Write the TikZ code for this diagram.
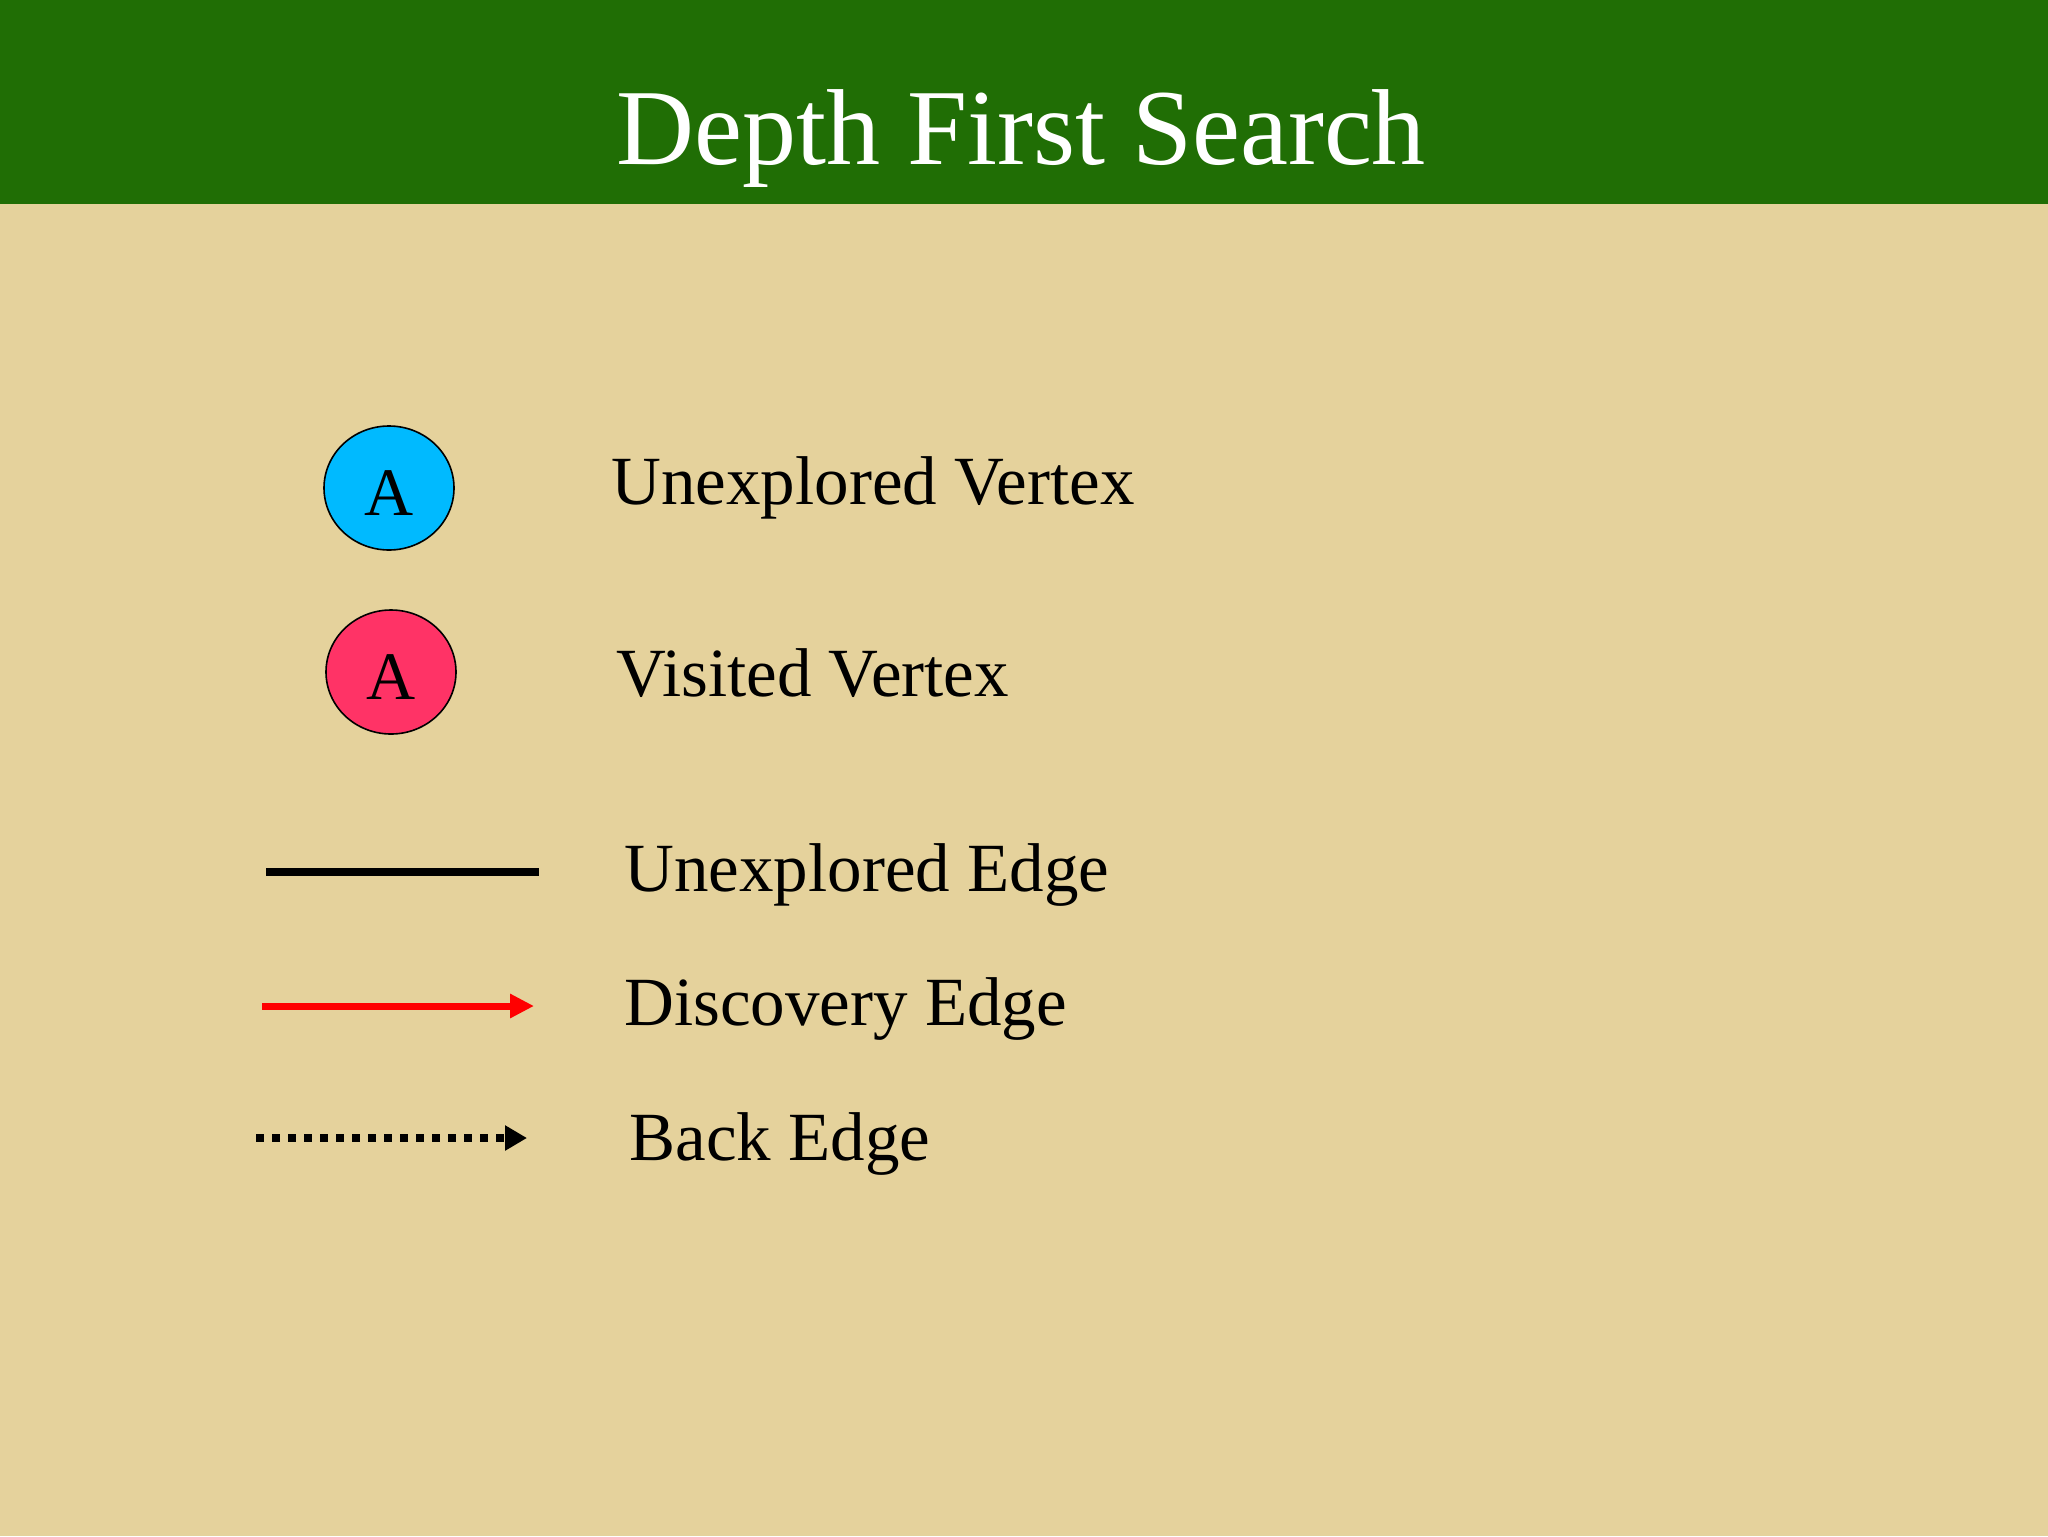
\documentclass[tikz,border=0pt]{standalone}
\usepackage{fontspec}
\setmainfont{Liberation Serif}
\usetikzlibrary{arrows.meta,shapes.geometric}
\definecolor{bandgreen}{RGB}{32,110,5}
\definecolor{slidetan}{RGB}{229,210,156}
\definecolor{vertexblue}{RGB}{0,186,255}
\definecolor{vertexpink}{RGB}{255,51,102}
\tikzset{
  vertex/.style={ellipse,draw=black,line width=0.8pt,inner sep=0pt,text height=27.5pt,text depth=0pt,
    minimum width=65pt,minimum height=62pt,font=\fontsize{34}{34}\selectfont},
  legendtext/.style={anchor=base west,inner sep=0pt,font=\fontsize{34.5}{40}\selectfont},
}
\begin{document}
\begin{tikzpicture}[x=0.5pt,y=-0.5pt,line join=bevel]
  \useasboundingbox (0,0) rectangle (2048,1536);
  \fill[slidetan] (0,0) rectangle (2048,1536);
  \fill[bandgreen] (0,0) rectangle (2048,204);
%%
  % Node: title
  \node[anchor=base,inner sep=0pt,text=white,font=\fontsize{54}{60}\selectfont] (title) at (1021,164) {Depth First Search};
  % Node: blueA
\begin{scope}
  \node[vertex,fill=vertexblue] (blueA) at (389,488) {A};
  \node[legendtext] (blueLabel) at (611,504) {Unexplored Vertex};
\end{scope}
  % Node: pinkA
\begin{scope}
  \node[vertex,fill=vertexpink] (pinkA) at (391,672) {A};
  \node[legendtext] (pinkLabel) at (616,696) {Visited Vertex};
\end{scope}
  % Edge: plainL -- plainR
  \coordinate (plainL) at (266,872);
  \coordinate (plainR) at (539,872);
  \draw[line width=4pt] (plainL) -- (plainR);
  \node[legendtext] (plainLabel) at (624,891) {Unexplored Edge};
  % Edge: discL -> discR
  \coordinate (discL) at (262,1006);
  \coordinate (discR) at (534,1006);
  \draw[red,line width=3.5pt,-{Triangle[length=12pt,width=11.5pt]}] (discL) -- (discR);
  \node[legendtext] (discLabel) at (624,1025) {Discovery Edge};
  % Edge: backL -> backR
  \coordinate (backL) at (256,1138);
  \coordinate (backR) at (527,1138);
  \draw[line width=4pt,dash pattern=on 4pt off 4pt,-{Triangle[length=11pt,width=12pt]}] (backL) -- (backR);
  \node[legendtext] (backLabel) at (629,1160) {Back Edge};
%
\end{tikzpicture}
\end{document}
